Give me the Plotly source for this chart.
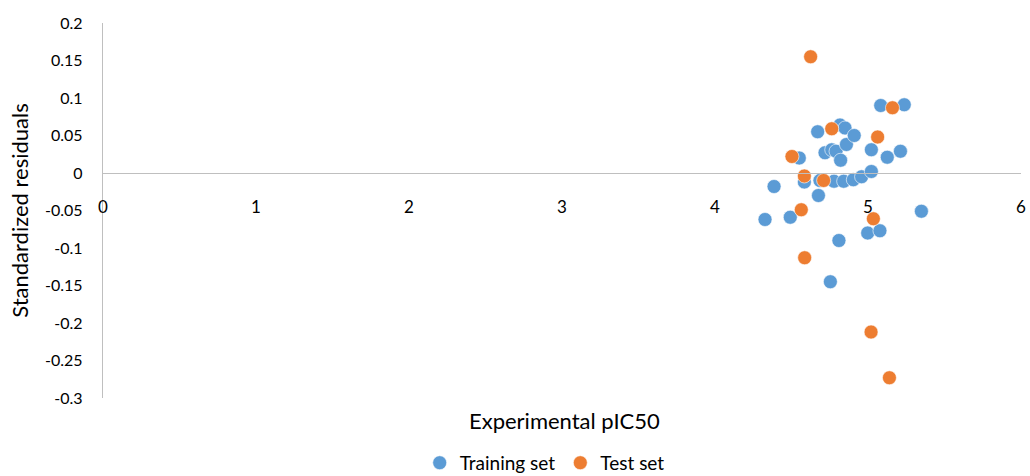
import plotly.graph_objects as go

# Experimental pIC50 vs standardized residuals
train_x = [4.327, 4.386, 4.492, 4.551, 4.584, 4.671, 4.676, 4.686, 4.719, 4.763,
           4.791, 4.754, 4.778, 4.810, 4.817, 4.821, 4.841, 4.850, 4.859, 4.904,
           4.910, 4.958, 4.998, 5.022, 5.022, 5.078, 5.083, 5.126, 5.212, 5.237,
           5.349]
train_y = [-0.062, -0.018, -0.059, 0.020, -0.012, 0.055, -0.030, -0.010, 0.027, 0.031,
           0.029, -0.145, -0.011, -0.090, 0.064, 0.017, -0.011, 0.060, 0.038, -0.009,
           0.050, -0.005, -0.080, 0.031, 0.002, -0.077, 0.090, 0.021, 0.029, 0.091,
           -0.051]

test_x = [4.503, 4.564, 4.584, 4.586, 4.625, 4.710, 4.763, 5.020, 5.035, 5.063,
          5.140, 5.160]
test_y = [0.022, -0.049, -0.004, -0.113, 0.155, -0.010, 0.059, -0.212, -0.061, 0.048,
          -0.273, 0.087]

x_ticks = [0, 1, 2, 3, 4, 5, 6]
y_ticks = [0.2, 0.15, 0.1, 0.05, 0, -0.05, -0.1, -0.15, -0.2, -0.25, -0.3]
y_ticktext = ["0.2", "0.15", "0.1", "0.05", "0", "-0.05", "-0.1", "-0.15", "-0.2", "-0.25", "-0.3"]

FONT = "Lato, Carlito, Calibri, sans-serif"
GRID = "#BFBFBF"

fig = go.Figure()
fig.add_trace(go.Scatter(
    x=train_x, y=train_y, mode="markers", name="Training set",
    marker=dict(color="#5B9BD5", size=14, line=dict(color="white", width=0.6)),
))
fig.add_trace(go.Scatter(
    x=test_x, y=test_y, mode="markers", name="Test set",
    marker=dict(color="#ED7D31", size=14, line=dict(color="white", width=0.6)),
))

fig.update_layout(
    width=1030, height=476,
    margin=dict(l=103, r=9, t=23, b=78, autoexpand=False),
    paper_bgcolor="white", plot_bgcolor="white",
    font=dict(family=FONT, size=16, color="#000000"),
    showlegend=True,
    legend=dict(orientation="h", x=0.345, xanchor="left", y=-0.173, yanchor="middle",
                font=dict(size=19), tracegroupgap=0),
    xaxis=dict(
        range=[0, 6], tickvals=x_ticks, showgrid=False, zeroline=False,
        showline=True, linecolor=GRID, linewidth=1.3,
        anchor="free", position=0.6, automargin=False,
        ticks="outside", ticklen=18, tickcolor="rgba(0,0,0,0)",
        tickfont=dict(size=17),
    ),
    yaxis=dict(
        range=[-0.3, 0.2], tickvals=y_ticks, ticktext=y_ticktext, automargin=False,
        showgrid=False, zeroline=False, showline=True, linecolor=GRID, linewidth=1.3,
        ticks="outside", ticklen=16, tickcolor="rgba(0,0,0,0)",
        tickfont=dict(size=16),
        title=dict(text="Standardized residuals", font=dict(size=22), standoff=10),
    ),
    annotations=[dict(
        text="Experimental pIC50", xref="paper", yref="paper",
        x=0.503, y=-0.06, xanchor="center", yanchor="middle",
        showarrow=False, font=dict(size=22),
    )],
)

fig.write_html("out.html")
